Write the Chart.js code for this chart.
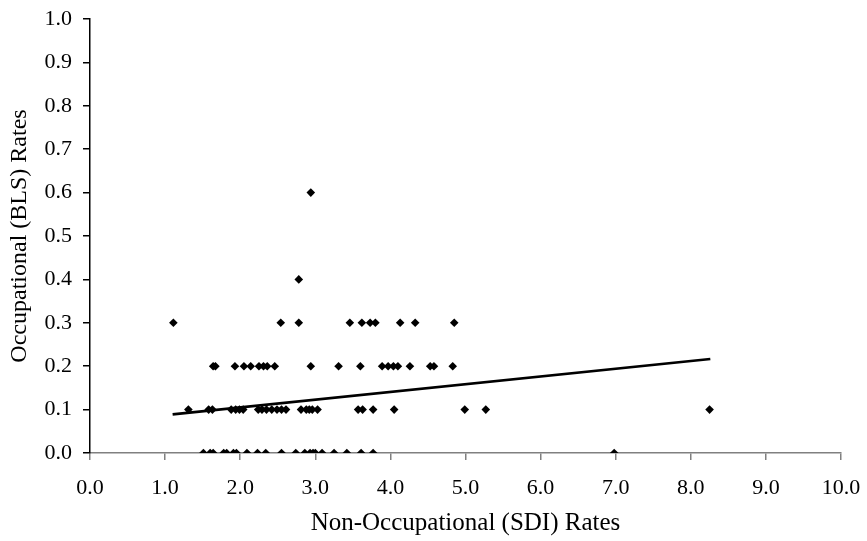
<!DOCTYPE html>
<html>
<head>
<meta charset="utf-8">
<script src="https://cdn.jsdelivr.net/npm/chart.js@4.4.1/dist/chart.umd.min.js"></script>
<style>
  html, body { margin: 0; padding: 0; background: #fff; }
  #wrap { width: 867px; height: 541px; }
</style>
</head>
<body>
<div id="wrap"><canvas id="c" width="867" height="541"></canvas></div>
<script>
// BLS rate levels and the SDI rates of the points at each level
const blsLevels = [0.0, 0.1, 0.2, 0.3, 0.4, 0.6];
const sdiAtBls00 = [1.51, 1.60, 1.64, 1.78, 1.82, 1.91, 1.95, 2.09, 2.23, 2.34, 2.55, 2.74, 2.86, 2.93, 2.97, 3.00, 3.09, 3.25, 3.42, 3.61, 3.77, 6.98];
const sdiAtBls01 = [1.31, 1.58, 1.63, 1.88, 1.94, 1.99, 2.04, 2.24, 2.29, 2.35, 2.42, 2.49, 2.55, 2.61, 2.81, 2.88, 2.92, 2.96, 3.03, 3.57, 3.63, 3.77, 4.05, 4.99, 5.27, 8.25];
const sdiAtBls02 = [1.64, 1.67, 1.93, 2.05, 2.14, 2.25, 2.31, 2.36, 2.46, 2.94, 3.31, 3.60, 3.89, 3.97, 4.04, 4.10, 4.26, 4.53, 4.58, 4.83];
const sdiAtBls03 = [1.11, 2.54, 2.78, 3.46, 3.62, 3.73, 3.80, 4.13, 4.33, 4.85];
const sdiAtBls04 = [2.78];
const sdiAtBls06 = [2.94];
// linear trend line end points (SDI, BLS)
const trendSdi = [1.10, 8.26];
const trendBls = [0.089, 0.2165];
// axis tick values
const xTicks = [0, 1, 2, 3, 4, 5, 6, 7, 8, 9, 10];
const yTicks = [0.0, 0.1, 0.2, 0.3, 0.4, 0.5, 0.6, 0.7, 0.8, 0.9, 1.0];

const rows = [sdiAtBls00, sdiAtBls01, sdiAtBls02, sdiAtBls03, sdiAtBls04, sdiAtBls06];
const scatterPts = [];
rows.forEach((r, i) => r.forEach(x => scatterPts.push({ x: x, y: blsLevels[i] })));
const trendPts = trendSdi.map((x, i) => ({ x: x, y: trendBls[i] }));

const FONT = 'Liberation Serif';

new Chart(document.getElementById('c'), {
  type: 'scatter',
  data: {
    datasets: [
      {
        type: 'line',
        data: trendPts,
        borderColor: '#000',
        borderWidth: 2.6,
        pointRadius: 0,
        fill: false,
        order: 2
      },
      {
        data: scatterPts,
        pointStyle: 'rectRot',
        pointRadius: 4.3,
        pointBorderWidth: 0,
        backgroundColor: '#000',
        borderColor: '#000',
        order: 1
      }
    ]
  },
  options: {
    responsive: false,
    animation: false,
    devicePixelRatio: 1,
    layout: { padding: { top: 19, right: 26, left: 0, bottom: 0 } },
    plugins: { legend: { display: false }, tooltip: { enabled: false } },
    scales: {
      x: {
        type: 'linear',
        min: 0, max: 10,
        afterFit: s => { s.height = 88; s.paddingLeft = 0; s.paddingRight = 0; },
        afterBuildTicks: s => { s.ticks = xTicks.map(v => ({ value: v })); },
        border: { color: '#808080', width: 1.5 },
        grid: { drawOnChartArea: false, color: '#808080', tickLength: 7, lineWidth: 1.5 },
        ticks: {
          color: '#000',
          font: { family: FONT, size: 22 },
          padding: 15,
          maxRotation: 0,
          callback: v => Number(v).toFixed(1)
        },
        title: {
          display: true,
          text: 'Non-Occupational (SDI) Rates',
          color: '#000',
          font: { family: FONT, size: 25 },
          padding: { top: 0, bottom: 3 }
        }
      },
      y: {
        type: 'linear',
        min: 0, max: 1,
        afterFit: s => { s.width = 90; s.paddingTop = 0; s.paddingBottom = 0; },
        afterBuildTicks: s => { s.ticks = yTicks.map(v => ({ value: v })); },
        border: { color: '#000', width: 1.5 },
        grid: { drawOnChartArea: false, color: '#000', tickLength: 7, lineWidth: 1.5 },
        ticks: {
          color: '#000',
          font: { family: FONT, size: 22 },
          padding: 11,
          callback: v => Number(v).toFixed(1)
        },
        title: {
          display: true,
          text: 'Occupational (BLS) Rates',
          color: '#000',
          font: { family: FONT, size: 24 },
          padding: { top: 5, bottom: 0 }
        }
      }
    }
  }
});
</script>
</body>
</html>
